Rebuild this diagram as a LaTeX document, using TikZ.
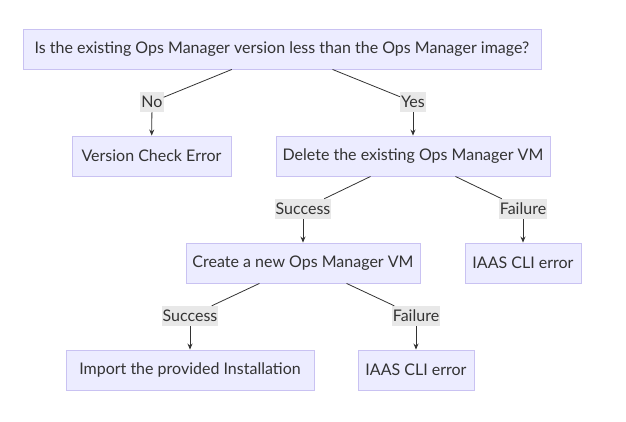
\documentclass[tikz,border=0pt]{standalone}
\usepackage{fontspec}
\setmainfont{Lato}
\usetikzlibrary{arrows.meta}
\definecolor{boxfill}{HTML}{ECECFF}
\definecolor{boxline}{HTML}{C9C2F2}
\definecolor{lblfill}{HTML}{E8E8E8}
\definecolor{ink}{HTML}{333333}
\begin{document}
\begin{tikzpicture}[x=1pt,y=-1pt,
  every node/.style={font=\fontsize{16}{19}\selectfont, text=ink},
  flowbox/.style={draw=boxline, line width=0.9pt, fill=boxfill, minimum height=40pt, inner sep=0pt},
  edgelbl/.style={fill=lblfill, inner xsep=1pt, inner ysep=0pt, minimum height=20pt},
  conn/.style={draw=ink, line width=0.8pt},
  arr/.style={conn, -{Stealth[length=6pt,width=5pt]}}]
\useasboundingbox (0,0) rectangle (626,421);
\node[flowbox, minimum width=518pt] (q) at (282,49) {Is the existing Ops Manager version less than the Ops Manager image?};
\node[flowbox, minimum width=159pt] (vce) at (151.5,156) {Version Check Error};
\node[flowbox, minimum width=274pt] (del) at (413,156) {Delete the existing Ops Manager VM};
\node[flowbox, minimum width=234pt] (create) at (303,263) {Create a new Ops Manager VM};
\node[flowbox, minimum width=116pt] (iaas1) at (523,263) {IAAS CLI error};
\node[flowbox, minimum width=248pt] (import) at (190,370) {Import the provided Installation};
\node[flowbox, minimum width=116pt] (iaas2) at (416,370) {IAAS CLI error};
\node[edgelbl] (no) at (152,102) {No};
\node[edgelbl] (yes) at (413,102) {Yes};
\node[edgelbl] (s1) at (303,209) {Success};
\node[edgelbl] (f1) at (523,209) {Failure};
\node[edgelbl] (s2) at (190,316) {Success};
\node[edgelbl] (f2) at (416,316) {Failure};
\draw[conn] (q) -- (no);
\draw[arr] (no) -- (vce);
\draw[conn] (q) -- (yes);
\draw[arr] (yes) -- (del);
\draw[conn] (del) -- (s1);
\draw[arr] (s1) -- (create);
\draw[conn] (del) -- (f1);
\draw[arr] (f1) -- (iaas1);
\draw[conn] (create) -- (s2);
\draw[arr] (s2) -- (import);
\draw[conn] (create) -- (f2);
\draw[arr] (f2) -- (iaas2);
\end{tikzpicture}
\end{document}
